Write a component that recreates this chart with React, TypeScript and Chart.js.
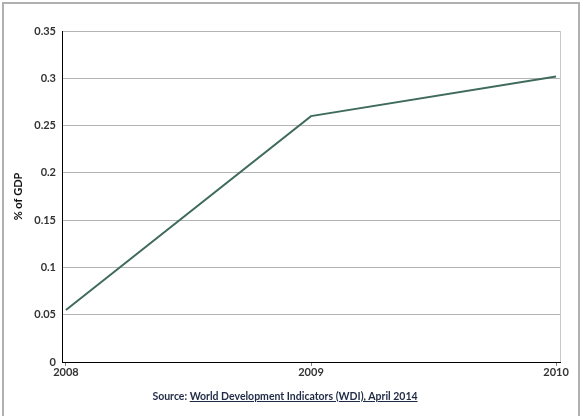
import React, { useEffect, useRef } from "react";
import { Chart, registerables } from "chart.js";

Chart.register(...registerables);

const years = [2008, 2009, 2010];
const values = [0.055, 0.26, 0.302];
const yTicks = [0, 0.05, 0.1, 0.15, 0.2, 0.25, 0.3, 0.35];
const yTitle = "% of GDP";
const sourceLabel = "Source:";
const sourceLink = "World Development Indicators (WDI), April 2014";

const FONT = "Lato, 'Liberation Sans', sans-serif";

const frameRight = {
  id: "frameRight",
  afterDraw(chart: any) {
    const { ctx, chartArea } = chart;
    ctx.save();
    ctx.strokeStyle = "#c8c8c8";
    ctx.lineWidth = 1;
    ctx.beginPath();
    ctx.moveTo(Math.round(chartArea.right) + 0.5, chartArea.top);
    ctx.lineTo(Math.round(chartArea.right) + 0.5, chartArea.bottom);
    ctx.stroke();
    ctx.restore();
  },
};

export default function App() {
  const ref = useRef<HTMLCanvasElement>(null);
  useEffect(() => {
    document.body.style.margin = "0";
    const chart = new Chart(ref.current!, {
      type: "line",
      data: {
        datasets: [
          {
            data: years.map((x, i) => ({ x, y: values[i] })),
            borderColor: "#3f6b5b",
            borderWidth: 2,
            pointRadius: 0,
            tension: 0,
          },
        ],
      },
      options: {
        animation: false,
        responsive: false,
        maintainAspectRatio: false,
        layout: { padding: { top: 31, right: 25, left: 0, bottom: 0 } },
        plugins: { legend: { display: false }, tooltip: { enabled: false } },
        scales: {
          x: {
            type: "linear",
            min: 2007.984,
            max: 2010.016,
            afterBuildTicks: (s: any) => {
              s.ticks = years.map((v) => ({ value: v }));
            },
            afterFit: (s: any) => {
              s.height = 54;
            },
            grid: {
              drawOnChartArea: false,
              drawTicks: true,
              tickLength: 4,
              color: "#888",
            },
            border: { color: "#000", width: 1 },
            ticks: {
              padding: 0,
              maxRotation: 0,
              autoSkip: false,
              color: "#333",
              font: { family: FONT, size: 11, weight: "bold" },
              callback: (v: any) => String(v),
            },
          },
          y: {
            min: 0,
            max: 0.35,
            afterBuildTicks: (s: any) => {
              s.ticks = yTicks.map((v) => ({ value: v }));
            },
            afterFit: (s: any) => {
              s.width = 62;
            },
            grid: { color: "#b4b4b4", drawTicks: false, tickLength: 0 },
            border: { color: "#000", width: 1 },
            ticks: {
              padding: 6,
              color: "#333",
              font: { family: FONT, size: 11, weight: "bold" },
              callback: (v: any) => String(Number(v.toFixed(2))),
            },
            title: {
              display: true,
              text: yTitle,
              color: "#111",
              padding: { top: 12, bottom: 0 },
              font: { family: FONT, size: 11, weight: "bold" },
            },
          },
        },
      },
      plugins: [frameRight],
    } as any);
    return () => chart.destroy();
  }, []);

  return (
    <div
      style={{
        position: "absolute",
        left: 0,
        top: 0,
        width: 585,
        height: 416,
        background: "#fff",
        overflow: "hidden",
      }}
    >
      <div
        style={{
          position: "absolute",
          left: 2,
          top: 2,
          width: 578,
          height: 430,
          border: "2px solid #b0b0b0",
          boxSizing: "border-box",
        }}
      />
      <canvas
        ref={ref}
        width={585}
        height={416}
        style={{ position: "absolute", left: 0, top: 0, width: 585, height: 416 }}
      />
      <div
        style={{
          position: "absolute",
          left: 0,
          width: 570,
          top: 390,
          textAlign: "center",
          fontFamily: FONT,
          fontWeight: "bold",
          fontSize: 10.5,
          color: "#1f2a44",
        }}
      >
        {sourceLabel} <span style={{ textDecoration: "underline" }}>{sourceLink}</span>
      </div>
    </div>
  );
}
